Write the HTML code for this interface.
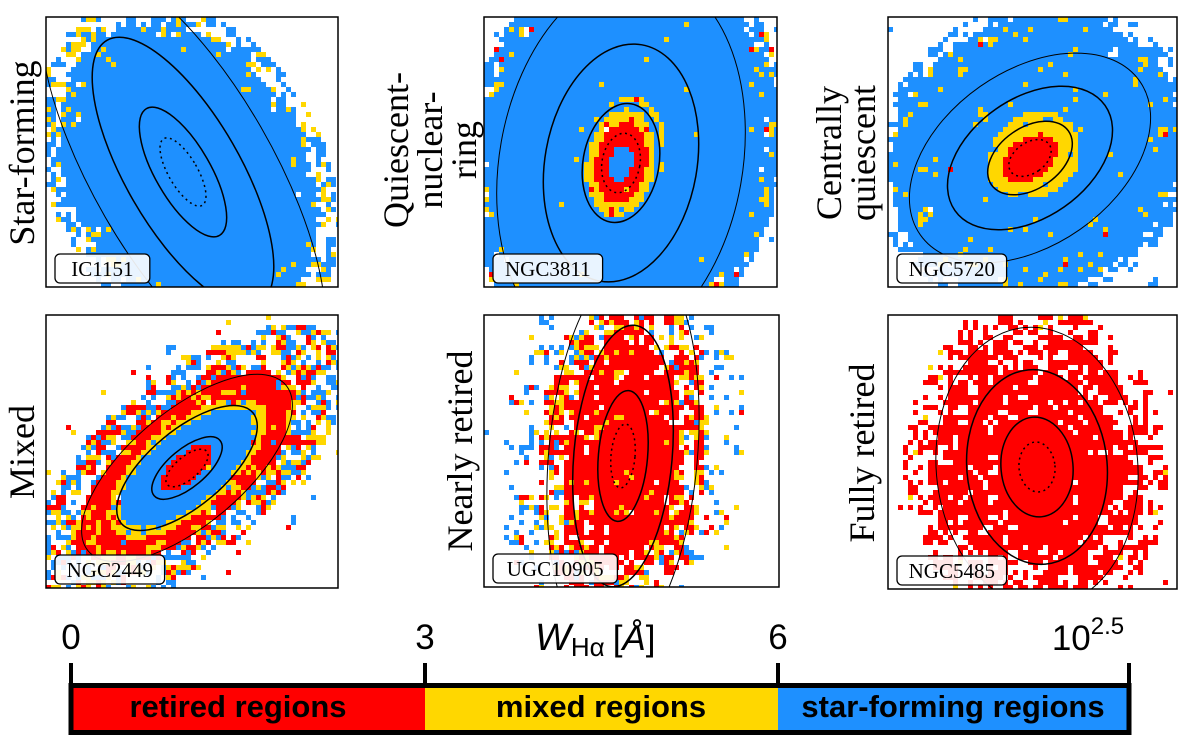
<!DOCTYPE html>
<html><head><meta charset="utf-8"><style>
html,body{margin:0;padding:0;background:#fff}
svg{display:block}
</style></head><body>
<svg id="fig" width="1200" height="753" viewBox="0 0 1200 753" xmlns="http://www.w3.org/2000/svg">
<g id="panels"></g>
<g id="rowlabels" font-family="Liberation Serif, serif" font-size="36" fill="#000" text-anchor="middle">
<text transform="translate(22,153) rotate(-90)" dominant-baseline="central">Star-forming</text>
<text transform="translate(396,150) rotate(-90)" dominant-baseline="central">Quiescent-</text>
<text transform="translate(430,150) rotate(-90)" dominant-baseline="central">nuclear-</text>
<text transform="translate(464,150) rotate(-90)" dominant-baseline="central">ring</text>
<text transform="translate(829,153) rotate(-90)" dominant-baseline="central">Centrally</text>
<text transform="translate(863,153) rotate(-90)" dominant-baseline="central">quiescent</text>
<text transform="translate(22,452) rotate(-90)" dominant-baseline="central">Mixed</text>
<text transform="translate(460,451) rotate(-90)" dominant-baseline="central">Nearly retired</text>
<text transform="translate(862,453) rotate(-90)" dominant-baseline="central">Fully retired</text>
</g>
<g id="colorbar">
<rect x="71" y="685" width="354" height="48" fill="#ff0000"/>
<rect x="425" y="685" width="353" height="48" fill="#ffd700"/>
<rect x="778" y="685" width="351" height="48" fill="#1e90ff"/>
<rect x="71" y="685.5" width="1058" height="47" fill="none" stroke="#000" stroke-width="5"/>
<g stroke="#000" stroke-width="4">
<line x1="71" y1="663" x2="71" y2="685"/>
<line x1="425" y1="663" x2="425" y2="685"/>
<line x1="778" y1="663" x2="778" y2="685"/>
<line x1="1129" y1="663" x2="1129" y2="685"/>
</g>
<g font-family="Liberation Sans, sans-serif" font-size="35" fill="#000">
<text x="71" y="649" text-anchor="middle">0</text>
<text x="425" y="649" text-anchor="middle">3</text>
<text x="778" y="649" text-anchor="middle">6</text>
<text x="1088" y="650" text-anchor="middle">10<tspan font-size="24" dy="-16">2.5</tspan></text>
<text x="535" y="650"><tspan font-style="italic" font-size="38">W</tspan><tspan font-size="26" dy="6">Hα</tspan><tspan dy="-6" dx="8">[</tspan><tspan font-style="italic">Å</tspan><tspan>]</tspan></text>
</g>
<g font-family="Liberation Sans, sans-serif" font-weight="bold" font-size="31" fill="#000" text-anchor="middle">
<text x="238" y="717">retired regions</text>
<text x="601" y="717">mixed regions</text>
<text x="953" y="717">star-forming regions</text>
</g>
</g>
</svg>
<script>
// Panel geometry (image-like maps, not chart series)
var panelNames = ["IC1151","NGC3811","NGC5720","NGC2449","UGC10905","NGC5485"];
var panelBoxes = [[46,17,292,270],[484,17,293,270],[888,17,289,270],[46,315,292,273],[484,315,295,272],[888,315,289,274]];
var panelCenters = [[183,172],[621,163],[1030,158],[187,468],[623,456],[1037,467]];
var panelRot = [-30,10,55,50,5,-5];
var panelAxes = [[14.5,38.5],[19,30],[15.3,23.5],[19,43],[12,32],[18,25]];
var contourScales = [[1,1.9,3.95,6.2],[1,2,4,6.4],[1,2,3.9,5.7],[0.6,1,2,3],[1,2.05,4.1,6.2],[1,2,3.9,5.6]];
var mapCenters = [[188,175],[626,150],[1035,155],[187,468],[623,456],[1037,467]];
var mapAxes = [[29,40],[22,30],[21,23.5],[19,43],[16,32],[20,25]];
var B="#1e90ff",Y="#ffd700",R="#ff0000";
var bands = [
 [[3.3,[[B,1]]],[4.0,[[B,0.82],[Y,0.09]]],[4.7,[[B,0.45],[Y,0.08]]],[99,[]]],
 [[0.6,[[B,1]]],[1.35,[[R,0.95],[Y,0.05]]],[1.8,[[Y,0.75],[R,0.15],[B,0.05]]],[6.2,[[B,0.94],[Y,0.05]]],[7.1,[[B,0.65],[Y,0.1],[R,0.03]]],[99,[[B,0.12]]]],
 [[1.3,[[R,1]]],[2.0,[[Y,0.95]]],[5.0,[[B,0.88],[Y,0.1],[R,0.01]]],[6.4,[[B,0.8],[Y,0.13],[R,0.03]]],[7.1,[[B,0.5]]],[99,[[B,0.06]]]],
 [[0.75,[[R,1]]],[1.9,[[B,0.95],[Y,0.05]]],[2.25,[[Y,0.75],[B,0.1],[R,0.1]]],[3.1,[[R,0.7],[Y,0.2],[B,0.03]]],[4.6,[[R,0.28],[Y,0.14],[B,0.17]]],[6,[[B,0.1],[Y,0.04],[R,0.03]]],[99,[]]],
 [[2.05,[[R,0.85],[Y,0.12]]],[3.6,[[R,0.72],[Y,0.06]]],[5.2,[[R,0.45],[Y,0.12],[B,0.04]]],[7.5,[[R,0.12],[Y,0.08],[B,0.1]]],[99,[[B,0.02]]]],
 [[2,[[R,0.94]]],[3.9,[[R,0.75]]],[5.4,[[R,0.62]]],[6.6,[[R,0.42],[Y,0.01]]],[99,[[R,0.06]]]]
];
function hsh(i,j,s){var x=Math.sin(i*127.1+j*311.7+s*74.7)*43758.5453;return x-Math.floor(x);}
var NS="http://www.w3.org/2000/svg";
var root=document.getElementById('panels');
var cell=5;
for(var p=0;p<6;p++){
  var bx=panelBoxes[p],c=panelCenters[p],ang=panelRot[p]*Math.PI/180,ax=panelAxes[p];
  var mc=mapCenters[p],ma=mapAxes[p];
  var g=document.createElementNS(NS,'g');
  
  
  var cp=document.createElementNS(NS,'clipPath');cp.setAttribute('id','clip'+p);
  var cr=document.createElementNS(NS,'rect');
  cr.setAttribute('x',bx[0]);cr.setAttribute('y',bx[1]);cr.setAttribute('width',bx[2]);cr.setAttribute('height',bx[3]);
  cp.appendChild(cr);g.appendChild(cp);
  var map=document.createElementNS(NS,'g');map.setAttribute('clip-path','url(#clip'+p+')');
  
  
  var cols=Math.ceil(bx[2]/cell),rows=Math.ceil(bx[3]/cell);
  var ca=Math.cos(ang),sa=Math.sin(ang);
  for(var i=0;i<cols;i++)for(var j=0;j<rows;j++){
    var px=bx[0]+i*cell+cell/2,py=bx[1]+j*cell+cell/2;
    var dx=px-mc[0],dy=py-mc[1];
    var u=dx*ca+dy*sa, v=-dx*sa+dy*ca;
    var r=Math.sqrt((u/ma[0])*(u/ma[0])+(v/ma[1])*(v/ma[1]));
    if(p!=0){dx=px-c[0];dy=py-c[1];u=dx*ca+dy*sa;v=-dx*sa+dy*ca;var r2=Math.sqrt((u/ax[0])*(u/ax[0])+(v/ax[1])*(v/ax[1]));if(r2<2.1)r=r2;}
    var bl=bands[p],k=0;while(k<bl.length-1&&r>bl[k][0])k++;
    var n=0.5*hsh(i,j,p)+0.5*hsh(i>>1,j>>1,p+10);
    var acc=0,col=null,opts=bl[k][1];
    for(var q=0;q<opts.length;q++){acc+=opts[q][1];if(n<acc){col=opts[q][0];break;}}
    if(!col)continue;
    var rc=document.createElementNS(NS,'rect');
    rc.setAttribute('x',bx[0]+i*cell);rc.setAttribute('y',bx[1]+j*cell);
    rc.setAttribute('width',cell);rc.setAttribute('height',cell);rc.setAttribute('fill',col);
    map.appendChild(rc);
  }
  var sc=contourScales[p];
  for(var q=0;q<sc.length;q++){
    var e=document.createElementNS(NS,'ellipse');
    
    
    e.setAttribute('cx',c[0]);e.setAttribute('cy',c[1]);
    e.setAttribute('rx',ax[0]*sc[q]);e.setAttribute('ry',ax[1]*sc[q]);
    e.setAttribute('transform','rotate('+panelRot[p]+' '+c[0]+' '+c[1]+')');
    e.setAttribute('fill','none');e.setAttribute('stroke','#000');
    e.setAttribute('stroke-width',q==sc.length-1?1:1.5);
    if(q==0)e.setAttribute('stroke-dasharray','2,3.5');
    map.appendChild(e);
  }
  g.appendChild(map);
  var fr=document.createElementNS(NS,'rect');
  
  
  fr.setAttribute('x',bx[0]);fr.setAttribute('y',bx[1]);fr.setAttribute('width',bx[2]);fr.setAttribute('height',bx[3]);
  fr.setAttribute('fill','none');fr.setAttribute('stroke','#000');fr.setAttribute('stroke-width',1.5);
  g.appendChild(fr);
  var w=panelNames[p].length*14.8+6;
  var lb=document.createElementNS(NS,'rect');
  
  
  lb.setAttribute('x',bx[0]+9);lb.setAttribute('y',bx[1]+bx[3]-33);
  lb.setAttribute('width',w);lb.setAttribute('height',29);lb.setAttribute('rx',5);
  lb.setAttribute('fill','#fff');lb.setAttribute('fill-opacity','0.9');lb.setAttribute('stroke','#000');lb.setAttribute('stroke-width',1.3);
  g.appendChild(lb);
  var t=document.createElementNS(NS,'text');
  
  
  t.setAttribute('x',bx[0]+9+w/2);t.setAttribute('y',bx[1]+bx[3]-11);
  t.setAttribute('text-anchor','middle');t.setAttribute('font-family','Liberation Serif, serif');t.setAttribute('font-size','21');
  t.textContent=panelNames[p];
  g.appendChild(t);
  root.appendChild(g);
}
</script>
</body></html>
